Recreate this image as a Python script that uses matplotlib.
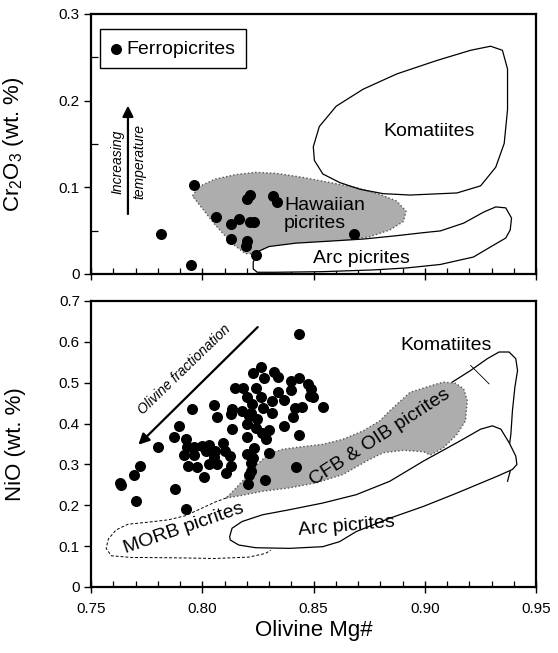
import numpy as np
import matplotlib
matplotlib.use("Agg")
from matplotlib import pyplot as plt

plt.rcParams['font.family'] = ['Liberation Sans', 'DejaVu Sans']
plt.rcParams['mathtext.default'] = 'regular'

# ---------------- data ----------------
# top panel: Cr2O3 vs olivine Mg#
cr_mg = [0.7963, 0.7814, 0.7948, 0.8062, 0.8131, 0.8164, 0.8128, 0.8203, 0.8197,
         0.8215, 0.8231, 0.8203, 0.8215, 0.8317, 0.8335, 0.8243, 0.8682]
cr_val = [0.103, 0.046, 0.010, 0.066, 0.058, 0.063, 0.040, 0.038, 0.032,
          0.060, 0.060, 0.087, 0.091, 0.090, 0.083, 0.022, 0.046]

# bottom panel: NiO vs olivine Mg#
ni_mg = [0.8436, 0.8228, 0.8264, 0.8324, 0.8339, 0.8397, 0.8433, 0.8474, 0.8490, 0.8145,
         0.8182, 0.8240, 0.8277, 0.8200, 0.8262, 0.8313, 0.8341, 0.8366, 0.8401, 0.8486,
         0.8499, 0.8543, 0.8055, 0.8134, 0.8179, 0.8224, 0.8220, 0.8273, 0.8312, 0.8416,
         0.8449, 0.7954, 0.8066, 0.8131, 0.8209, 0.8244, 0.8406, 0.7895, 0.8134, 0.8202,
         0.8241, 0.8300, 0.8369, 0.7874, 0.7927, 0.8095, 0.8202, 0.8267, 0.8286, 0.8436,
         0.7799, 0.7933, 0.7965, 0.8000, 0.8030, 0.8058, 0.8102, 0.8126, 0.8231, 0.7920,
         0.7963, 0.8018, 0.8055, 0.8200, 0.8228, 0.8300, 0.7721, 0.7938, 0.7978, 0.8031,
         0.8065, 0.8128, 0.8221, 0.7692, 0.8009, 0.8105, 0.8217, 0.8209, 0.8421, 0.7631,
         0.7636, 0.7877, 0.8283, 0.8206, 0.7704, 0.7926]
ni_val = [0.620, 0.524, 0.538, 0.526, 0.515, 0.504, 0.511, 0.497, 0.485, 0.486,
          0.487, 0.487, 0.511, 0.464, 0.466, 0.456, 0.477, 0.458, 0.481, 0.467,
          0.466, 0.441, 0.445, 0.435, 0.430, 0.448, 0.426, 0.438, 0.425, 0.439,
          0.441, 0.435, 0.417, 0.423, 0.419, 0.411, 0.417, 0.394, 0.386, 0.399,
          0.389, 0.385, 0.394, 0.367, 0.363, 0.353, 0.366, 0.376, 0.363, 0.372,
          0.343, 0.343, 0.343, 0.345, 0.348, 0.334, 0.334, 0.320, 0.339, 0.323,
          0.323, 0.333, 0.318, 0.326, 0.316, 0.329, 0.297, 0.295, 0.294, 0.300,
          0.302, 0.297, 0.304, 0.274, 0.270, 0.278, 0.284, 0.275, 0.294, 0.254,
          0.249, 0.240, 0.261, 0.252, 0.210, 0.191]

# field outlines, top panel
kom_top_x = [0.9296, 0.9349, 0.9372, 0.9372, 0.9357, 0.9319, 0.9251, 0.9145, 0.8934, 0.8813,
             0.8708, 0.8617, 0.8542, 0.8504, 0.8499, 0.8526, 0.8602, 0.8723, 0.8874, 0.9055,
             0.9206]
kom_top_y = [0.2628, 0.2581, 0.2366, 0.1897, 0.1506, 0.1232, 0.1017, 0.0935, 0.0911, 0.0927,
             0.0978, 0.1056, 0.1154, 0.1310, 0.1467, 0.1701, 0.1936, 0.2132, 0.2308, 0.2464,
             0.2581]
haw_x = [0.7956, 0.7983, 0.8058, 0.8149, 0.8240, 0.8330, 0.8451, 0.8572, 0.8692, 0.8798,
         0.8874, 0.8916, 0.8904, 0.8843, 0.8753, 0.8662, 0.8541, 0.8391, 0.8285, 0.8240,
         0.8194, 0.8134, 0.8058, 0.7998]
haw_y = [0.0900, 0.1005, 0.1095, 0.1146, 0.1173, 0.1162, 0.1115, 0.1056, 0.0997, 0.0919,
         0.0841, 0.0724, 0.0606, 0.0508, 0.0430, 0.0391, 0.0364, 0.0340, 0.0301, 0.0235,
         0.0235, 0.0352, 0.0567, 0.0763]
arc_top_x = [0.8240, 0.8300, 0.8421, 0.8572, 0.8723, 0.8874, 0.8994, 0.9070, 0.9175, 0.9266,
             0.9319, 0.9364, 0.9390, 0.9384, 0.9364, 0.9296, 0.9219, 0.9070, 0.8919, 0.8768,
             0.8541, 0.8330, 0.8247, 0.8229, 0.8229, 0.8240]
arc_top_y = [0.0246, 0.0317, 0.0356, 0.0379, 0.0403, 0.0442, 0.0477, 0.0497, 0.0587, 0.0716,
             0.0774, 0.0763, 0.0645, 0.0508, 0.0415, 0.0313, 0.0196, 0.0110, 0.0070, 0.0047,
             0.0027, 0.0020, 0.0020, 0.0059, 0.0137, 0.0196]

# field outlines, bottom panel
cfb_x = [0.8107, 0.8179, 0.8270, 0.8391, 0.8511, 0.8632, 0.8738, 0.8813, 0.8904, 0.8994,
         0.9025, 0.9085, 0.9145, 0.9183, 0.9191, 0.9175, 0.9138, 0.9085, 0.9055, 0.8934,
         0.8843, 0.8798, 0.8723, 0.8632, 0.8541, 0.8451, 0.8360, 0.8300, 0.8247, 0.8194,
         0.8149]
cfb_y = [0.2177, 0.2243, 0.2342, 0.2424, 0.2547, 0.2752, 0.3081, 0.3286, 0.3344, 0.3311,
         0.3229, 0.3410, 0.3738, 0.4067, 0.4560, 0.4847, 0.4987, 0.5012, 0.4971, 0.4765,
         0.4313, 0.4067, 0.3820, 0.3615, 0.3492, 0.3434, 0.3369, 0.3262, 0.2999, 0.2670,
         0.2407]
arc_bot_x = [0.8123, 0.8134, 0.8179, 0.8270, 0.8391, 0.8541, 0.8692, 0.8843, 0.8994, 0.9145,
             0.9251, 0.9304, 0.9342, 0.9379, 0.9409, 0.9414, 0.9394, 0.9326, 0.9145, 0.8994,
             0.8843, 0.8692, 0.8617, 0.8541, 0.8391, 0.8240, 0.8164, 0.8126]
arc_bot_y = [0.1232, 0.1438, 0.1602, 0.1766, 0.1890, 0.2054, 0.2259, 0.2588, 0.3081, 0.3533,
             0.3862, 0.3944, 0.3862, 0.3533, 0.3204, 0.2999, 0.2876, 0.2711, 0.2300, 0.1972,
             0.1684, 0.1356, 0.1109, 0.0986, 0.0945, 0.0961, 0.1027, 0.1150]
kom_bot_x = [0.9123, 0.9206, 0.9281, 0.9334, 0.9379, 0.9409, 0.9417, 0.9405, 0.9394, 0.9387,
             0.9381, 0.9384, 0.9372]
kom_bot_y = [0.5012, 0.5299, 0.5587, 0.5751, 0.5751, 0.5587, 0.5299, 0.4889, 0.4313, 0.3738,
             0.3492, 0.2834, 0.2588]
morb_x = [0.8107, 0.8058, 0.7983, 0.7923, 0.7847, 0.7757, 0.7666, 0.7613, 0.7578, 0.7568,
          0.7591, 0.7681, 0.7862, 0.8058, 0.8209, 0.8285, 0.8308]
morb_y = [0.2177, 0.2079, 0.1890, 0.1742, 0.1643, 0.1586, 0.1536, 0.1397, 0.1175, 0.0945,
          0.0764, 0.0723, 0.0715, 0.0698, 0.0731, 0.0822, 0.0904]

gray = '#adadad'

fig = plt.figure(figsize=(5.58, 6.53), dpi=100)
ax1 = fig.add_axes([0.1631, 0.5804, 0.7975, 0.3982])
ax2 = fig.add_axes([0.1631, 0.1011, 0.7975, 0.4380])

# ---------------- top panel ----------------
ax1.fill(haw_x, haw_y, facecolor=gray, edgecolor='#555555', lw=1, ls=':', zorder=1)
ax1.fill(kom_top_x, kom_top_y, facecolor='none', edgecolor='k', lw=0.9, zorder=2)
ax1.fill(arc_top_x, arc_top_y, facecolor='white', edgecolor='k', lw=0.9, zorder=2)
ax1.scatter(cr_mg, cr_val, s=48, c='k', zorder=5, label='Ferropicrites')

ax1.text(0.9021, 0.1643, 'Komatiites', fontsize=14, ha='center', va='center', zorder=3)
ax1.text(0.8368, 0.0690, 'Hawaiian\npicrites', fontsize=14, ha='left', va='center',
         linespacing=1.05, zorder=3)
ax1.text(0.8715, 0.0184, 'Arc picrites', fontsize=14, ha='center', va='center', zorder=3)

ax1.annotate('', xy=(0.7666, 0.1975), xytext=(0.7666, 0.0660),
             arrowprops=dict(arrowstyle='-|>', lw=1.6, color='k', mutation_scale=16))
ax1.text(0.7618, 0.1295, 'Increasing', fontsize=10, style='italic', rotation=90,
         ha='center', va='center')
ax1.text(0.7719, 0.1295, 'temperature', fontsize=10, style='italic', rotation=90,
         ha='center', va='center')

leg = ax1.legend(loc='upper left', bbox_to_anchor=(0.021, 0.941), borderaxespad=0,
                 fontsize=14, handlelength=0.5, handletextpad=0.3, borderpad=0.55,
                 scatterpoints=1, fancybox=False, framealpha=1)
leg.get_frame().set_edgecolor('k')
leg.get_frame().set_linewidth(1.0)

ax1.set_ylim(0, 0.3)
ax1.set_yticks([0, 0.1, 0.2, 0.3])
ax1.set_yticklabels(['0', '0.1', '0.2', '0.3'])
ax1.set_yticks([0.05, 0.15, 0.25], minor=True)
ax1.set_ylabel(r'Cr$_2$O$_3$ (wt. %)', fontsize=16)
ax1.tick_params(axis='x', labelbottom=False)

# ---------------- bottom panel ----------------
ax2.plot(kom_bot_x, kom_bot_y, color='k', lw=0.9, zorder=1)
ax2.plot(morb_x, morb_y, color='k', lw=0.7, ls=(0, (3, 2)), zorder=1)
ax2.fill(cfb_x, cfb_y, facecolor=gray, edgecolor='#555555', lw=1, ls=':', zorder=2)
ax2.fill(arc_bot_x, arc_bot_y, facecolor='white', edgecolor='k', lw=0.9, zorder=2)
ax2.plot([0.9206, 0.9289], [0.5423, 0.4971], color='k', lw=0.6, zorder=2)
ax2.scatter(ni_mg, ni_val, s=48, c='k', zorder=5)

ax2.text(0.9097, 0.5915, 'Komatiites', fontsize=14, ha='center', va='center', zorder=3)
ax2.text(0.8798, 0.3656, 'CFB & OIB picrites', fontsize=14, ha='center', va='center',
         rotation=33, zorder=3)
ax2.text(0.7915, 0.1438, 'MORB picrites', fontsize=14, ha='center', va='center',
         rotation=19, zorder=3)
ax2.text(0.8647, 0.1479, 'Arc picrites', fontsize=14, ha='center', va='center',
         rotation=5, zorder=3)

ax2.annotate('', xy=(0.7704, 0.3434), xytext=(0.8258, 0.6408),
             arrowprops=dict(arrowstyle='-|>', lw=1.6, color='k', mutation_scale=16))
ax2.text(0.7920, 0.5330, 'Olivine fractionation', fontsize=10, style='italic',
         rotation=44, ha='center', va='center')

ax2.set_ylim(0, 0.7)
ax2.set_yticks(np.arange(0, 0.71, 0.1))
ax2.set_yticklabels(['0', '0.1', '0.2', '0.3', '0.4', '0.5', '0.6', '0.7'])
ax2.set_ylabel('NiO (wt. %)', fontsize=16)
ax2.set_xlabel('Olivine Mg#', fontsize=16)
ax2.xaxis.set_label_coords(0.5, -0.115)

for ax in (ax1, ax2):
    ax.set_xlim(0.75, 0.95)
    ax.set_xticks([0.75, 0.80, 0.85, 0.90, 0.95])
    ax.set_xticks(np.arange(0.76, 0.95, 0.01), minor=True)
    ax.tick_params(axis='x', which='major', direction='inout', length=9, width=1,
                   labelsize=11, pad=6)
    ax.tick_params(axis='x', which='minor', direction='in', length=4, width=0.9)
    ax.tick_params(axis='y', which='major', direction='out', length=5, width=1,
                   labelsize=11, pad=3)
    ax.tick_params(axis='y', which='minor', direction='in', length=5, width=0.9)
    ax.yaxis.set_label_coords(-0.145, 0.5)
    for sp in ax.spines.values():
        sp.set_linewidth(1.6)
ax2.set_xticklabels(['0.75', '0.80', '0.85', '0.90', '0.95'])

fig.savefig('out.png', dpi=100)
